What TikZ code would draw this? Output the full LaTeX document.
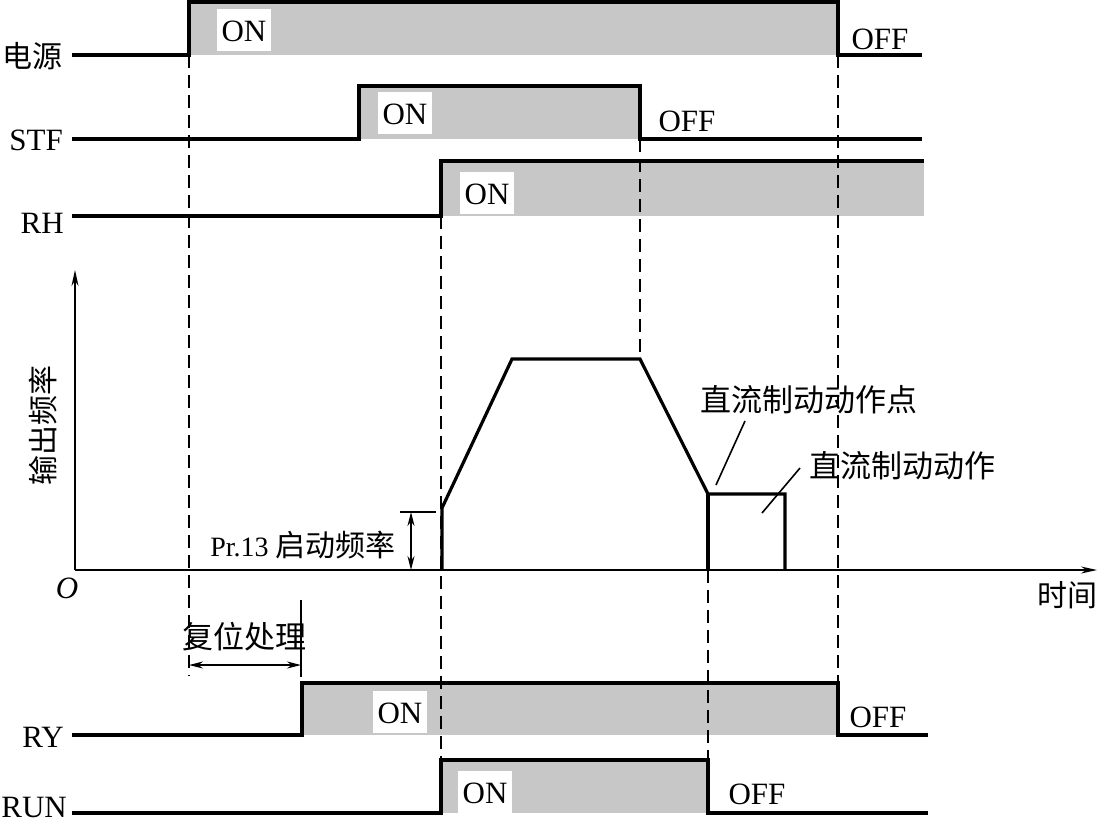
\documentclass[tikz,border=0pt]{standalone}
\usepackage{fontspec}
\setmainfont{Liberation Serif}
\newfontfamily\cjk{Noto Sans CJK SC}
\usetikzlibrary{arrows.meta}
\begin{document}
\begin{tikzpicture}[x=1pt,y=-1pt,
  sig/.style={line width=3.2pt},
  band/.style={fill=black!22,draw=none},
  onlbl/.style={fill=white,inner xsep=5pt,inner ysep=10pt,text height=22pt,text depth=0pt,font=\fontsize{31}{31}\selectfont},
  offlbl/.style={inner sep=0pt,text height=22pt,text depth=0pt,font=\fontsize{31}{31}\selectfont},
  siglbl/.style={inner sep=0pt,anchor=base east,font=\fontsize{31}{31}\selectfont},
  zh/.style={inner sep=0pt,font=\cjk\fontsize{30}{30}\selectfont},
  guide/.style={line width=1.5pt,dash pattern=on 13pt off 7pt},
  thinl/.style={line width=1.6pt},
  tip/.style={-{Stealth[length=16pt,width=7pt]}},
  dtip/.style={{Stealth[length=14pt,width=7pt]}-{Stealth[length=14pt,width=7pt]}}]
\useasboundingbox (0,0) rectangle (1100,823);

% ---- gray bands ----
\fill[band] (189,2) rectangle (838,55);
\fill[band] (359,86) rectangle (640,139);
\fill[band] (441,161) rectangle (924,216);
\fill[band] (302,683) rectangle (838,735);
\fill[band] (441,760) rectangle (708,813);

% ---- dashed guides ----
\draw[guide] (189,55) -- (189,676);
\draw[guide] (441,216) -- (441,760);
\draw[guide] (640,139) -- (640,359);
\draw[guide] (838,55) -- (838,683);
\draw[guide] (708,570) -- (708,760);

% ---- waveforms ----
\draw[sig] (72,55) -- (189,55) -- (189,2) -- (838,2) -- (838,55) -- (922,55);
\draw[sig] (72,139) -- (359,139) -- (359,86) -- (640,86) -- (640,139) -- (922,139);
\draw[sig] (72,216) -- (441,216) -- (441,161) -- (924,161);
\draw[sig] (72,735) -- (302,735) -- (302,683) -- (838,683) -- (838,735) -- (928,735);
\draw[sig] (72,813) -- (441,813) -- (441,760) -- (708,760) -- (708,813) -- (928,813);

% ---- signal names ----
\node[zh,anchor=east] (pwr) at (63,56) {电源};
\node[siglbl] (stf) at (63,150) {STF};
\node[siglbl] (rh) at (64,233) {RH};
\node[siglbl] (ry) at (64,747) {RY};
\node[siglbl] (run) at (67,817) {RUN};

% ---- ON / OFF labels ----
\node[onlbl] (on1) at (244,30) {ON};
\node[offlbl] (off1) at (880,38) {OFF};
\node[onlbl] (on2) at (405,113) {ON};
\node[offlbl] (off2) at (687,120) {OFF};
\node[onlbl] (on3) at (487,193) {ON};
\node[onlbl] (on4) at (400,712) {ON};
\node[offlbl] (off4) at (878,716) {OFF};
\node[onlbl] (on5) at (485,792) {ON};
\node[offlbl] (off5) at (757,793) {OFF};

% ---- axes ----
\coordinate (O) at (75,570);
\coordinate (ytop) at (75,270);
\coordinate (xend) at (1097,570);
\draw[thinl,tip] (O) -- (ytop);
\draw[thinl,tip] (O) -- (xend);
\node[inner sep=0pt,font=\itshape\fontsize{31}{31}\selectfont] (olbl) at (67,588) {O};
\node[zh,rotate=90] (ylbl) at (43,425) {输出频率};
\node[zh] (xlbl) at (1067,595) {时间};

% ---- frequency curve ----
\draw[sig] (442,570) -- (442,508) -- (512,359) -- (640,359) -- (708,494) -- (785,494) -- (785,570);
\draw[sig] (708,494) -- (708,570);

% ---- Pr.13 ----
\coordinate (p1) at (400,512);
\coordinate (p2) at (436,512);
\coordinate (pa) at (411,512);
\coordinate (pb) at (411,570);
\draw[thinl] (p1) -- (p2);
\draw[thinl,dtip] (pa) -- (pb);
\node[inner sep=0pt] (pr) at (303,545) {\fontsize{28}{28}\selectfont Pr.13 \cjk\fontsize{30}{30}\selectfont 启动频率};

% ---- reset ----
\node[zh,font=\cjk\fontsize{31}{31}\selectfont] (reset) at (244,637) {复位处理};
\coordinate (r1) at (301,600);
\coordinate (r2) at (301,677);
\draw[thinl] (r1) -- (r2);
\coordinate (ra) at (189,665);
\coordinate (rb) at (301,665);
\draw[thinl,dtip] (ra) -- (rb);

% ---- DC brake labels ----
\node[zh,font=\cjk\fontsize{31}{31}\selectfont] (dcp) at (809,400) {直流制动动作点};
\node[zh,font=\cjk\fontsize{31}{31}\selectfont] (dca) at (902,466) {直流制动动作};
\coordinate (l1a) at (716,485);
\coordinate (l1b) at (745,421);
\coordinate (l2a) at (762,513);
\coordinate (l2b) at (800,468);
\draw[thinl] (l1a) -- (l1b);
\draw[thinl] (l2a) -- (l2b);
\end{tikzpicture}
\end{document}
